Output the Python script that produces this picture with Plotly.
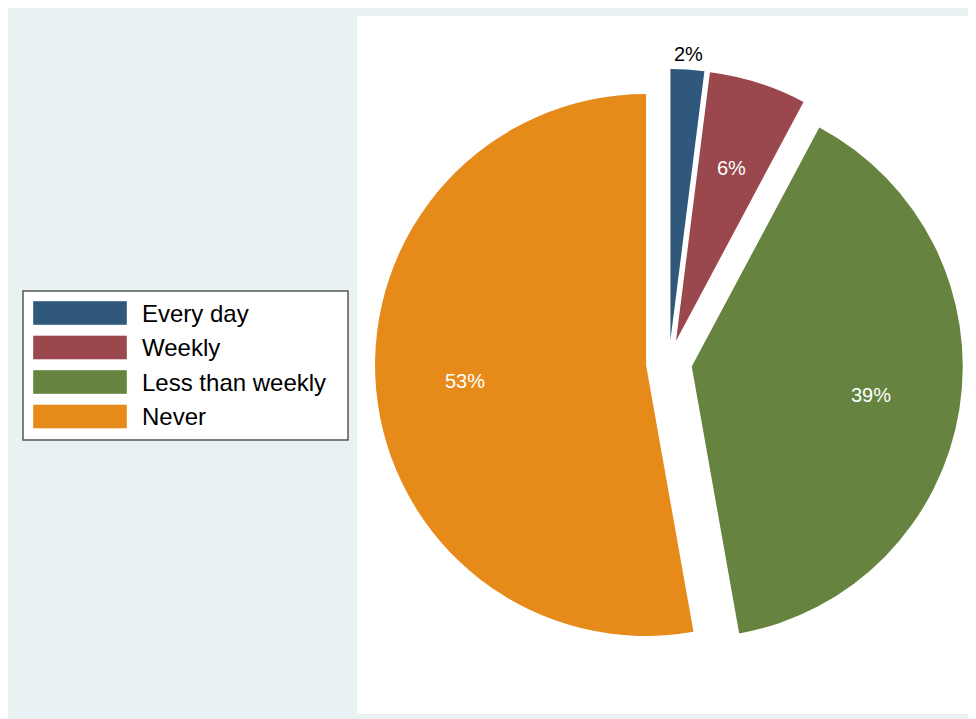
import math
import plotly.graph_objects as go

categories = ["Every day", "Weekly", "Less than weekly", "Never"]
values = [2.0, 5.8, 39.4, 52.8]
colors = ["#2F587C", "#9A474E", "#66833F", "#E68A1A"]
label_inside = [False, True, True, True]

# page is rendered with an 8px body margin; work in page pixels and convert
OFF = 8
W, H = 976 - OFF, 719 - OFF
FONT = "Arial, Liberation Sans, sans-serif"

def px_x(x):
    return (x - OFF) / W

def px_y(y):
    return 1 - (y - OFF) / H

# pie geometry (page pixels)
CX, CY = 669, 363
R = 271
PULL = 0.085
D = R * PULL
HALF = R * (1 + PULL)

fig = go.Figure()
fig.add_trace(go.Pie(
    labels=categories,
    values=values,
    marker=dict(colors=colors, line=dict(width=0)),
    sort=False,
    direction="clockwise",
    rotation=0,
    pull=[PULL] * len(values),
    textinfo="none",
    hoverinfo="label+percent",
    automargin=False,
    showlegend=False,
    domain=dict(x=[px_x(CX - HALF), px_x(CX + HALF)], y=[px_y(CY + HALF), px_y(CY - HALF)]),
))

# percentage labels placed along each slice's mid-angle
annotations = []
total = sum(values)
cum = 0.0
for v, inside in zip(values, label_inside):
    mid = (cum + v / 2) / total * 2 * math.pi
    cum += v
    dist = D + (0.67 * R if inside else R + 16)
    lx = CX + dist * math.sin(mid)
    ly = CY - dist * math.cos(mid)
    annotations.append(dict(xref="paper", yref="paper", x=px_x(lx), y=px_y(ly),
                            text=f"{round(v / total * 100)}%", showarrow=False,
                            xanchor="center", yanchor="middle",
                            font=dict(size=20, color="white" if inside else "black", family=FONT)))

shapes = [
    dict(type="rect", xref="paper", yref="paper", x0=0, x1=1.0, y0=0, y1=1.0,
         fillcolor="#E9F1F3", line=dict(width=0), layer="below"),
    dict(type="rect", xref="paper", yref="paper", x0=px_x(357), x1=1.0, y0=px_y(714), y1=px_y(16),
         fillcolor="white", line=dict(width=0), layer="below"),
    dict(type="rect", xref="paper", yref="paper", x0=px_x(23), x1=px_x(348), y0=px_y(440), y1=px_y(291),
         fillcolor="white", line=dict(color="#555555", width=1.5), layer="below"),
]
row_tops = [301, 335.5, 370, 404.5]
for cat, col, top in zip(categories, colors, row_tops):
    shapes.append(dict(type="rect", xref="paper", yref="paper",
                       x0=px_x(33), x1=px_x(127), y0=px_y(top + 24), y1=px_y(top),
                       fillcolor=col, line=dict(color="rgba(255,255,255,0.4)", width=1), layer="above"))
    annotations.append(dict(xref="paper", yref="paper", x=px_x(140), y=px_y(top + 12),
                            text=cat, showarrow=False, xanchor="left", yanchor="middle",
                            font=dict(size=24, color="black", family=FONT)))

fig.update_layout(
    width=W, height=H,
    margin=dict(l=0, r=0, t=0, b=0),
    paper_bgcolor="white",
    plot_bgcolor="white",
    shapes=shapes,
    annotations=annotations,
    font=dict(family=FONT),
)

fig.write_html("out.html")
